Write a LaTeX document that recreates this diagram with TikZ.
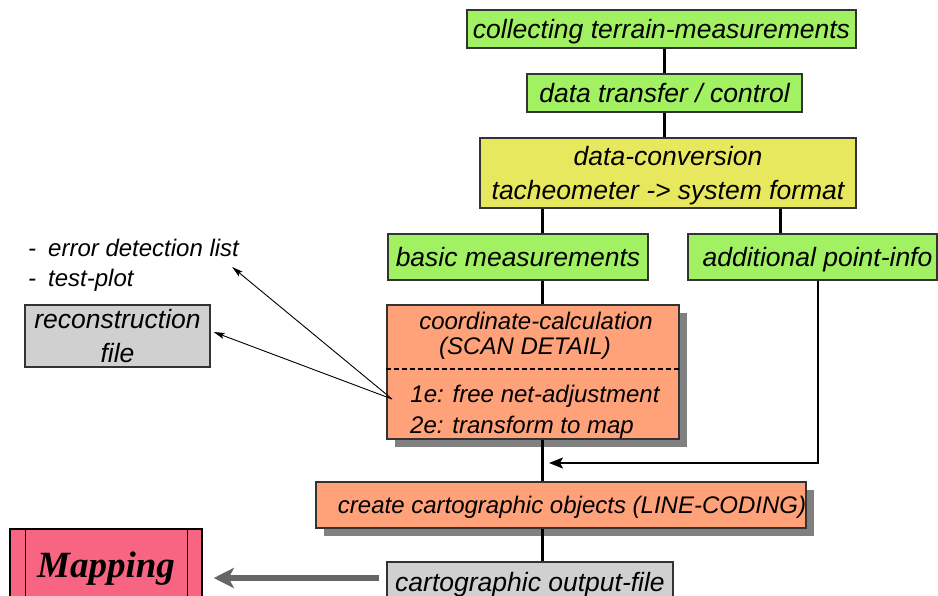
\documentclass[tikz,border=0pt]{standalone}
\usepackage{fontspec}
\setmainfont{Liberation Sans}
\newfontfamily\mapserif{Liberation Serif}
\usetikzlibrary{arrows.meta,shadows,calc}

\definecolor{boxgreen}{HTML}{A2F162}
\definecolor{boxyellow}{HTML}{E8E85E}
\definecolor{boxsalmon}{HTML}{FFA27A}
\definecolor{boxgray}{HTML}{D0D0D0}
\definecolor{boxpink}{HTML}{F86582}
\definecolor{boxline}{HTML}{333333}
\definecolor{shadowgray}{HTML}{808080}
\definecolor{bigarrow}{HTML}{666666}

\newcommand\txtbig{\fontsize{26.5}{34}\selectfont\itshape}
\newcommand\txtsmall{\fontsize{24}{30}\selectfont\itshape}

\begin{document}
\begin{tikzpicture}[x=1pt,y=-1pt,
  box/.style={draw=boxline, line width=1.2pt, inner sep=0pt, font=\txtbig, align=center, text depth=0pt},
  greenbox/.style={box, fill=boxgreen},
  yellowbox/.style={box, fill=boxyellow},
  salmonbox/.style={box, fill=boxsalmon, font=\txtsmall,
    drop shadow={shadow xshift=8pt, shadow yshift=-8pt, fill=shadowgray, opacity=1}},
  graybox/.style={box, fill=boxgray},
  label/.style={inner sep=0pt, font=\txtsmall, align=left},
  flow/.style={line width=3pt},
  thinarrow/.style={line width=0.9pt, -{Stealth[length=11pt,width=6pt,inset=2pt]}},
]
\useasboundingbox (0,0) rectangle (938,596);

% main column
\node[greenbox, minimum width=389pt, minimum height=38pt] (collect) at (661.5,29)
  {collecting terrain-measurements};
\node[greenbox, minimum width=275pt, minimum height=38pt] (transfer) at (664.5,93)
  {data transfer / control};
\node[yellowbox, minimum width=376pt, minimum height=70pt] (conv) at (668,173)
  {data-conversion\\tacheometer -> system format};
\node[greenbox, minimum width=260pt, minimum height=46pt] (basic) at (518,257)
  {basic measurements};
\node[greenbox, minimum width=249pt, minimum height=46pt] (addl) at (812.5,257)
  {\hspace*{10pt}additional point-info};

% coordinate calculation box with its two sections
\node[salmonbox, minimum width=292pt, minimum height=134pt] (calc) at (533,372) {};
\node[label, align=center, font=\fontsize{24}{24.5}\selectfont\itshape] (calcA) at (536,336)
  {coordinate-calculation\\(SCAN DETAIL)\hspace*{22pt}};
\node[label] (calcC) at (535,396) {1e: free net-adjustment};
\node[label] (calcD) at (522,427) {2e: transform to map};
\draw[line width=1.2pt, dash pattern=on 5pt off 3pt]
  (calc.west |- 0,369) -- (calc.east |- 0,369);

\node[salmonbox, minimum width=486pt, minimum height=46pt] (create) at (561,505)
  {\hspace*{22pt}create cartographic objects (LINE-CODING)};
\node[graybox, minimum width=286pt, minimum height=40pt] (output) at (530,582)
  {cartographic output-file};

% side outputs
\node[graybox, minimum width=185pt, minimum height=62pt] (recon) at (117.5,336)
  {reconstruction\\file};
\node[label, anchor=west] (errlist) at (28,265)
  {\makebox[20pt][l]{-}error detection list\\\makebox[20pt][l]{-}test-plot};

% mapping box
\node[draw=black, line width=1.5pt, fill=boxpink, inner sep=0pt,
  minimum width=192pt, minimum height=80pt,
  font=\mapserif\fontsize{37}{40}\selectfont\bfseries\itshape] (mapping) at (106,569) {Mapping};
\draw[line width=1.2pt] ($(mapping.north west)+(16,0)$) -- ($(mapping.south west)+(16,0)$);
\draw[line width=1.2pt] ($(mapping.north east)+(-15,0)$) -- ($(mapping.south east)+(-15,0)$);

% connectors
\coordinate (topline) at (664,0);
\coordinate (trunk) at (542,0);
\coordinate (sideline) at (780,0);
\coordinate (infoline) at (818,0);
\coordinate (joinpt) at (549,463);
\coordinate (splitpt) at (392,399);
\coordinate (errtip) at ($(errlist.east)+(-7,2)$);
\coordinate (recontip) at ($(recon.east)+(3,-4)$);

\draw[flow] (collect.south -| topline) -- (transfer.north -| topline);
\draw[flow] (transfer.south -| topline) -- (conv.north -| topline);
\draw[flow] (conv.south -| trunk) -- (basic.north -| trunk);
\draw[flow] (conv.south -| sideline) -- (addl.north -| sideline);
\draw[flow] (basic.south -| trunk) -- (calc.north -| trunk);
\draw[flow] (calc.south -| trunk) -- (create.north -| trunk);
\draw[flow] (create.south -| trunk) -- (output.north -| trunk);
\draw[line width=2pt, -{Stealth[length=14pt,width=11pt,inset=3pt]}]
  (addl.south -| infoline) -- (infoline |- joinpt) -- (joinpt);

\draw[thinarrow] (splitpt) -- (errtip);
\draw[thinarrow] (splitpt) -- (recontip);

\draw[line width=6pt, color=bigarrow, -{Stealth[length=20pt,width=20pt,inset=5pt]}]
  ($(output.west)+(-7,-4)$) -- ($(mapping.east |- output.west)+(11,-4)$);
\end{tikzpicture}
\end{document}
